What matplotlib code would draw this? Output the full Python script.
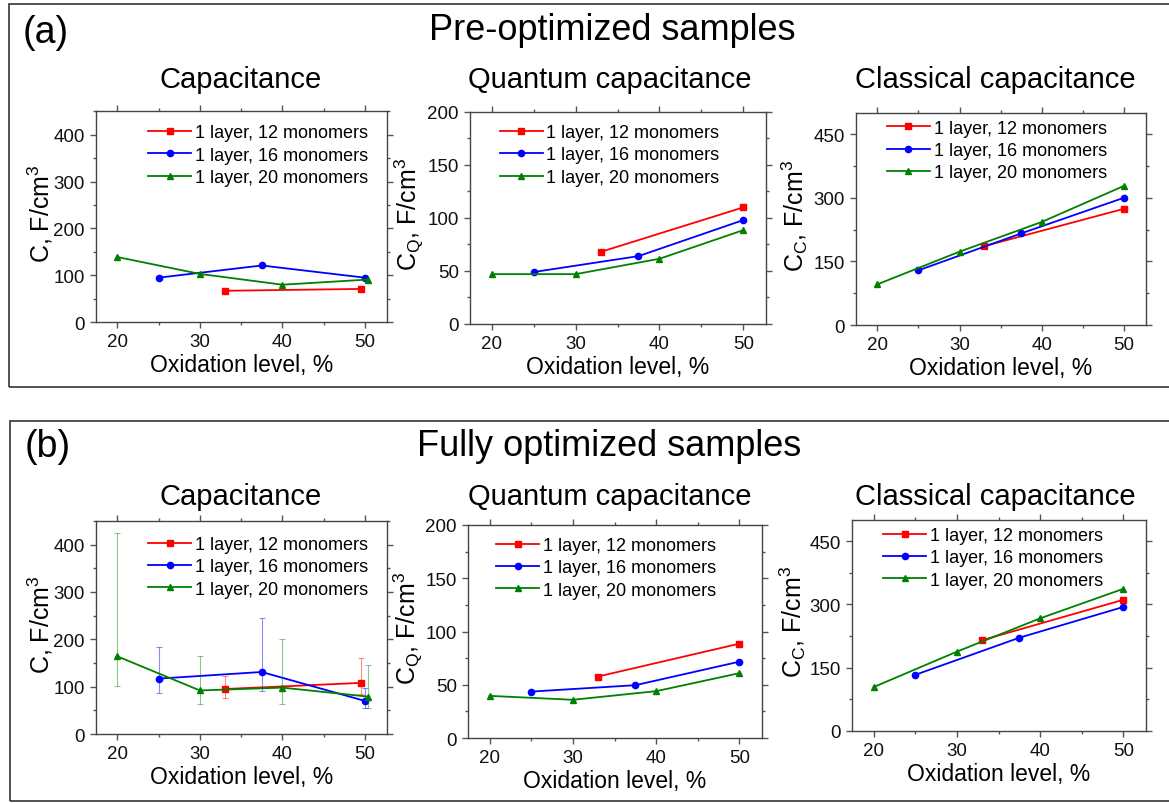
import matplotlib
matplotlib.use("Agg")
import matplotlib.pyplot as plt
from matplotlib.patches import Rectangle
import numpy as np

plt.rcParams['font.family'] = ['Liberation Sans', 'DejaVu Sans']
plt.rcParams['mathtext.fontset'] = 'custom'
plt.rcParams['mathtext.rm'] = 'Liberation Sans'
plt.rcParams['mathtext.it'] = 'Liberation Sans'

# --- data: (a) pre-optimized samples ---
labels = ["1 layer, 12 monomers", "1 layer, 16 monomers", "1 layer, 20 monomers"]

x12_a = [33, 49.5]
x16_a = [25, 37.5, 50]
x20_a = [20, 30, 40, 50.4]
x12 = [33, 50]
x16 = [25, 37.5, 50]
x20 = [20, 30, 40, 50]

cap12_a = [67, 71]
cap16_a = [95, 121, 95]
cap20_a = [139, 103, 80, 91]

cq12_a = [68, 110]
cq16_a = [49, 64, 98]
cq20_a = [47, 47, 61.5, 88.5]

cc12_a = [186, 274]
cc16_a = [129, 216, 300]
cc20_a = [96, 173, 243, 328]

# --- data: (b) fully optimized samples ---
cap12_b = [95, 108]
cap16_b = [117, 131, 70]
cap20_b = [164, 92, 98, 79]
# error bar bounds (lower, upper)
cap12_lo = [77, 85]
cap12_hi = [123, 160]
cap16_lo = [86, 90, 54]
cap16_hi = [183, 244, 98]
cap20_lo = [101, 63, 64, 54]
cap20_hi = [425, 164, 201, 145]

cq12_b = [57.7, 88.6]
cq16_b = [43.6, 49.6, 71.7]
cq20_b = [39.6, 35.9, 44, 60.9]

cc12_b = [215, 311]
cc16_b = [133, 221, 294]
cc20_b = [104, 188, 267, 337]

colors = ['#ff0000', '#0000ff', '#008000']
markers = ['s', 'o', '^']

fig = plt.figure(figsize=(11.69, 8.04), dpi=100)

# framing boxes
fig.patches.append(Rectangle((9 / 1169, 1 - 388 / 804), 1.2, (388 - 5) / 804,
                             transform=fig.transFigure, fill=False,
                             edgecolor='#333333', lw=1.2))
fig.patches.append(Rectangle((10 / 1169, 1 - 802 / 804), 1.2, (802 - 422) / 804,
                             transform=fig.transFigure, fill=False,
                             edgecolor='#333333', lw=1.2))

fig.text(46 / 1169, 1 - 33 / 804, "(a)", fontsize=27, ha='center', va='center')
fig.text(612 / 1169, 1 - 30 / 804, "Pre-optimized samples", fontsize=26, ha='center', va='center')
fig.text(48 / 1169, 1 - 447 / 804, "(b)", fontsize=27, ha='center', va='center')
fig.text(609 / 1169, 1 - 447 / 804, "Fully optimized samples", fontsize=26, ha='center', va='center')

titles = ["Capacitance", "Quantum capacitance", "Classical capacitance"]
title_x = [241, 610, 995]
for tx, t in zip(title_x, titles):
    fig.text(tx / 1169, 1 - 80 / 804, t, fontsize=21, ha='center', va='center')
    fig.text(tx / 1169, 1 - 497 / 804, t, fontsize=21, ha='center', va='center')

ylabels = ["C, F/cm$^3$", "C$_\\mathrm{Q}$, F/cm$^3$", "C$_\\mathrm{C}$, F/cm$^3$"]

axes_pos = [
    [0.0821, 0.598, 0.249, 0.2624],
    [0.402, 0.5958, 0.2532, 0.2637],
    [0.7323, 0.5945, 0.248, 0.2637],
    [0.0821, 0.0858, 0.249, 0.265],
    [0.4003, 0.0808, 0.2515, 0.265],
    [0.7288, 0.0896, 0.2515, 0.2624],
]
leg_anchor = [(0.179, 0.938), (0.10, 0.943), (0.106, 0.969),
              (0.179, 0.93), (0.095, 0.944), (0.105, 0.967)]
ylab_x = [-0.141, -0.148, -0.159, -0.141, -0.145, -0.15]

panels = [
    ([x12_a, x16_a, x20_a], [cap12_a, cap16_a, cap20_a], 450, 100, 50),
    ([x12, x16, x20], [cq12_a, cq16_a, cq20_a], 200, 50, 25),
    ([x12, x16, x20], [cc12_a, cc16_a, cc20_a], 500, 150, 75),
    ([x12_a, x16_a, x20_a], [cap12_b, cap16_b, cap20_b], 450, 100, 50),
    ([x12, x16, x20], [cq12_b, cq16_b, cq20_b], 200, 50, 25),
    ([x12, x16, x20], [cc12_b, cc16_b, cc20_b], 500, 150, 75),
]
err_lo = [cap12_lo, cap16_lo, cap20_lo]
err_hi = [cap12_hi, cap16_hi, cap20_hi]

for i, (xs, ys, ymax, ymaj, ymin) in enumerate(panels):
    ax = fig.add_axes(axes_pos[i])
    for k in range(3):
        if i == 3:
            y = np.array(ys[k])
            yerr = [y - np.array(err_lo[k]), np.array(err_hi[k]) - y]
            ax.errorbar(xs[k], y, yerr=yerr, fmt='none', ecolor=colors[k],
                        elinewidth=0.8, capsize=2.5, capthick=0.8, alpha=0.45)
        ax.plot(xs[k], ys[k], color=colors[k], marker=markers[k], ms=4.5,
                lw=1.3, label=labels[k])
    ax.set_xlim(17.4, 52.7)
    ax.set_ylim(0, ymax)
    ax.set_xticks([20, 30, 40, 50])
    ax.set_xticks([25, 35, 45], minor=True)
    ax.set_yticks(np.arange(0, ymax + 1, ymaj))
    ax.set_yticks(np.arange(0, ymax + 1, ymin), minor=True)
    ax.tick_params(which='both', direction='out', top=True, right=True,
                   color='#555555', labelsize=13.5, labelcolor='#111111')
    ax.tick_params(which='major', length=4.5, width=1)
    ax.tick_params(which='minor', length=2.5, width=1)
    for s in ax.spines.values():
        s.set_color('#444444')
        s.set_linewidth(1)
    ax.set_xlabel("Oxidation level, %", fontsize=16.5, labelpad=2)
    ax.set_ylabel(ylabels[i % 3], fontsize=18)
    ax.yaxis.set_label_coords(ylab_x[i], 0.52)
    ax.legend(loc='upper left', bbox_to_anchor=leg_anchor[i], frameon=False,
              fontsize=13, borderpad=0, handlelength=2.4, handletextpad=0.2,
              labelspacing=0.3, borderaxespad=0)

fig.savefig("out.png", dpi=100)
